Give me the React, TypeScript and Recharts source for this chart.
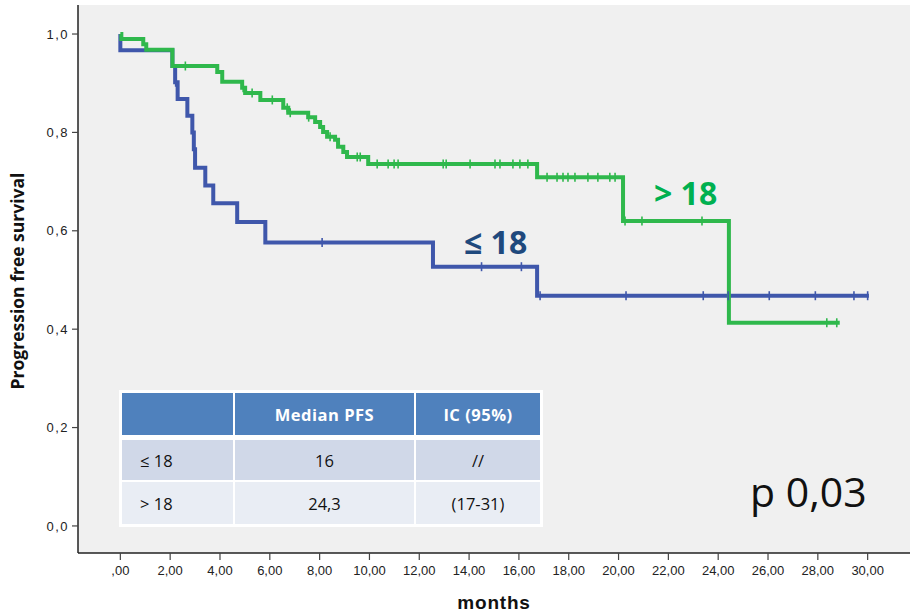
import React from 'react';
import { ComposedChart, Line, Scatter, XAxis, YAxis, CartesianGrid } from 'recharts';

// ---- axis ticks ----
const monthTicks = [0, 2, 4, 6, 8, 10, 12, 14, 16, 18, 20, 22, 24, 26, 28, 30];
const survivalTicks = [0, 0.2, 0.4, 0.6, 0.8, 1.0];

// ---- ≤ 18 group (blue): event times and survival after each step ----
const lowTimes = [0, 0, 2.09, 2.2, 2.3, 2.69, 2.89, 2.95, 3.0, 3.41, 3.73, 4.69, 5.82, 12.55, 16.73, 30.05];
const lowSurv = [1.0, 0.967, 0.935, 0.902, 0.868, 0.834, 0.8, 0.766, 0.728, 0.692, 0.656, 0.618, 0.576, 0.527, 0.468, 0.468];
const lowCensored = [2.22, 8.1, 14.5, 16.1, 16.85, 20.3, 23.4, 24.4, 26.05, 27.9, 29.45, 30.0];

// ---- > 18 group (green) ----
const highTimes = [0, 0.04, 0.92, 1.04, 2.09, 3.89, 4.09, 4.89, 5.01, 5.62, 6.54, 6.74, 7.54, 7.82, 8.02, 8.14, 8.3, 8.62, 8.74, 8.95, 9.1, 9.95, 16.73, 20.18, 24.43, 28.88];
const highSurv = [1.0, 0.99, 0.979, 0.968, 0.935, 0.923, 0.903, 0.891, 0.88, 0.866, 0.85, 0.84, 0.831, 0.821, 0.811, 0.801, 0.791, 0.785, 0.771, 0.76, 0.75, 0.736, 0.709, 0.62, 0.413, 0.413];
const highCensored = [2.61, 4.93, 5.29, 6.1, 6.7, 6.82, 7.56, 8.42, 9.51, 9.63, 10.31, 10.75, 10.99, 11.15, 12.96, 13.08, 14.04, 15.04, 15.24, 15.76, 16.04, 16.36, 17.13, 17.53, 17.77, 17.97, 18.25, 18.77, 19.17, 19.65, 19.86, 20.26, 20.94, 23.35, 28.36, 28.76];

// ---- table ----
const tableHeader = ['', 'Median PFS', 'IC (95%)'];
const tableGroups = ['≤ 18', '> 18'];
const tableMedians = ['16', '24,3'];
const tableCI = ['//', '(17-31)'];

const BLUE = '#3f57ab';
const GREEN = '#2fb84c';

const toRows = (times: number[], surv: number[]) => times.map((t, i) => ({ t, s: surv[i] }));
const survAt = (times: number[], surv: number[], t: number) => {
  let v = surv[0];
  for (let i = 0; i < times.length; i++) if (times[i] <= t) v = surv[i];
  return v;
};
const censorRows = (cens: number[], times: number[], surv: number[]) =>
  cens.map((t) => ({ t, s: survAt(times, surv, t) }));

const lowData = toRows(lowTimes, lowSurv);
const highData = toRows(highTimes, highSurv);
const lowCens = censorRows(lowCensored, lowTimes, lowSurv);
const highCens = censorRows(highCensored, highTimes, highSurv);

const fmtMonth = (v: number) => (v === 0 ? ',00' : v.toFixed(2).replace('.', ','));
const fmtSurv = (v: number) => v.toFixed(1).replace('.', ',');

const censorShape = (color: string) => (props: any) => {
  const { cx, cy } = props;
  if (cx == null || cy == null) return <g />;
  return <line x1={cx} x2={cx} y1={cy - 4.5} y2={cy + 4.5} stroke={color} strokeWidth={1.6} />;
};

const colW = [111, 179, 124];
const rowH = [42, 40, 42];

export default function App() {
  const cellFont = "'Open Sans', sans-serif";
  let y = 3;
  const rows: React.ReactNode[] = [];
  const allRows = [tableHeader, [tableGroups[0], tableMedians[0], tableCI[0]], [tableGroups[1], tableMedians[1], tableCI[1]]];
  allRows.forEach((r, ri) => {
    let x = 3;
    const bg = ri === 0 ? '#4f81bd' : ri === 1 ? '#d0d8e8' : '#e9edf4';
    r.forEach((txt, ci) => {
      rows.push(
        <div
          key={ri + '-' + ci}
          style={{
            position: 'absolute',
            left: x,
            top: y,
            width: colW[ci],
            height: rowH[ri],
            background: bg,
            display: 'flex',
            alignItems: 'center',
            justifyContent: ci === 0 ? 'flex-start' : 'center',
            paddingLeft: ci === 0 ? 18 : 0,
            boxSizing: 'border-box',
            fontFamily: cellFont,
            fontSize: 16.5,
            fontWeight: ri === 0 ? 700 : 400,
            color: ri === 0 ? '#ffffff' : '#111111',
            letterSpacing: ri === 0 ? 0.5 : 0,
          }}
        >
          {txt}
        </div>
      );
      x += colW[ci] + 2;
    });
    y += rowH[ri] + (ri === 0 ? 5 : 2);
  });

  return (
    <div style={{ position: 'absolute', left: 0, top: 0, width: 910, height: 614, background: '#ffffff' }}>
      <ComposedChart width={910} height={614} margin={{ top: 5, right: 0, bottom: 0, left: 0 }}>
        <CartesianGrid fill="#f0f0f0" horizontal={false} vertical={false} />
        <XAxis
          xAxisId="top"
          orientation="top"
          type="number"
          dataKey="t"
          domain={[-1.7, 31.7]}
          allowDataOverflow
          height={0}
          tick={false}
          tickLine={false}
          axisLine={{ stroke: '#6b6b6b', strokeWidth: 2 }}
        />
        <XAxis
          type="number"
          dataKey="t"
          domain={[-1.7, 31.7]}
          allowDataOverflow
          ticks={monthTicks}
          tickFormatter={fmtMonth}
          interval={0}
          height={61}
          tickSize={7}
          tickMargin={6}
          axisLine={{ stroke: '#222', strokeWidth: 1.5 }}
          tickLine={{ stroke: '#444', strokeWidth: 1.2 }}
          tick={{ fill: '#222', fontSize: 13, fontFamily: "'Liberation Sans', Arial, sans-serif" }}
          label={{
            value: 'months',
            position: 'insideBottom',
            offset: 5,
            style: { fill: '#111', fontSize: 19, fontWeight: 700, fontFamily: "'Liberation Sans', Arial, sans-serif", letterSpacing: 0.8 },
          }}
        />
        <YAxis
          type="number"
          domain={[-0.055, 1.059]}
          allowDataOverflow
          ticks={survivalTicks}
          tickFormatter={fmtSurv}
          interval={0}
          width={78}
          tickSize={6}
          tickMargin={3}
          axisLine={{ stroke: '#222', strokeWidth: 1.5 }}
          tickLine={{ stroke: '#444', strokeWidth: 1.2 }}
          tick={{ fill: '#222', fontSize: 13, fontFamily: "'Liberation Sans', Arial, sans-serif", letterSpacing: 1.5 }}
          label={{
            value: 'Progression free survival',
            angle: -90,
            position: 'center',
            dx: -21,
            dy: 2,
            style: { fill: '#111', fontSize: 17.5, fontWeight: 700, fontFamily: "'Open Sans', sans-serif", textAnchor: 'middle' },
          }}
        />
        <Line data={lowData} dataKey="s" type="stepAfter" stroke={BLUE} strokeWidth={4} dot={false} isAnimationActive={false} />
        <Line data={highData} dataKey="s" type="stepAfter" stroke={GREEN} strokeWidth={4} dot={false} isAnimationActive={false} />
        <Scatter data={lowCens} dataKey="s" shape={censorShape(BLUE)} isAnimationActive={false} />
        <Scatter data={highCens} dataKey="s" shape={censorShape(GREEN)} isAnimationActive={false} />
      </ComposedChart>

      <div style={{ position: 'absolute', left: 464, top: 222, fontFamily: "'Open Sans', sans-serif", fontWeight: 700, fontSize: 32, lineHeight: '40px', color: '#1f497d' }}>
        ≤ 18
      </div>
      <div style={{ position: 'absolute', left: 654, top: 173, fontFamily: "'Open Sans', sans-serif", fontWeight: 700, fontSize: 32, lineHeight: '40px', color: '#00b050' }}>
        &gt; 18
      </div>
      <div style={{ position: 'absolute', left: 750, top: 466, fontFamily: "'Open Sans', sans-serif", fontWeight: 400, fontSize: 41, lineHeight: '50px', color: '#111' }}>
        p 0,03
      </div>

      <div style={{ position: 'absolute', left: 119, top: 390, width: 424, height: 137, background: '#ffffff' }}>{rows}</div>
    </div>
  );
}
